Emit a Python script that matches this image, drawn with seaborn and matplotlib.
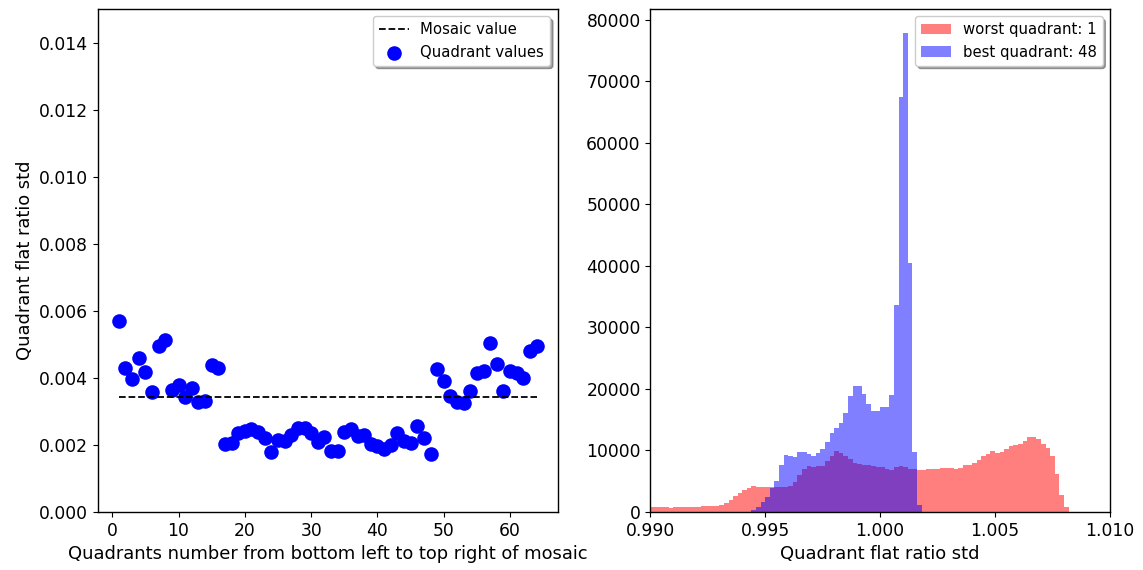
import numpy as np
import pandas as pd
import matplotlib
matplotlib.use("Agg")
import matplotlib.pyplot as plt
import seaborn as sns

# ---------------- data ----------------
quadrants = list(range(1, 65))
quadrant_std = [
    0.00570, 0.00430, 0.00396, 0.00459, 0.00417, 0.00358, 0.00495, 0.00514,
    0.00364, 0.00380, 0.00344, 0.00371, 0.00329, 0.00332, 0.00438, 0.00430,
    0.00202, 0.00207, 0.00236, 0.00242, 0.00248, 0.00238, 0.00222, 0.00179,
    0.00215, 0.00212, 0.00230, 0.00250, 0.00250, 0.00236, 0.00208, 0.00223,
    0.00182, 0.00182, 0.00238, 0.00246, 0.00227, 0.00229, 0.00203, 0.00198,
    0.00189, 0.00200, 0.00235, 0.00213, 0.00205, 0.00256, 0.00222, 0.00174,
    0.00425, 0.00390, 0.00347, 0.00329, 0.00324, 0.00362, 0.00415, 0.00420,
    0.00503, 0.00441, 0.00362, 0.00420, 0.00413, 0.00399, 0.00481, 0.00496,
]
mosaic_value = 0.00344

bin_start = 0.990
bin_width = 0.0002

worst_counts = [
    850, 820, 800, 770, 680, 760, 780, 780, 790, 820,
    880, 890, 890, 900, 950, 1120, 1450, 1900, 2650, 3100,
    3650, 3960, 4150, 4080, 4130, 4050, 4000, 4010, 4120, 4120,
    4150, 4930, 5960, 6990, 7430, 7370, 7480, 7530, 8350, 9100,
    9920, 9650, 9100, 8560, 7910, 7750, 7640, 7640, 7530, 7370,
    7240, 7050, 6780, 7350, 7480, 7350, 7030, 6970, 6830, 6880,
    6990, 7050, 6940, 7100, 7210, 7100, 6990, 7210, 7640, 7700,
    7910, 8400, 9050, 9490, 9860, 9650, 9760, 10190, 10730, 10950,
    11060, 11600, 12200, 12200, 11870, 11060, 10460, 9050, 6180, 2820,
    760,
]
best_counts = [0] * 22 + [
    300, 800, 1600, 2450, 3850, 5100, 7620, 9250, 9030, 9000,
    9700, 9810, 9490, 9050, 9650, 10300, 11380, 12900, 13710, 14420,
    16040, 18860, 20490, 20540, 19190, 17560, 16420, 16420, 17130, 17020,
    18970, 33640, 67430, 77830, 40400, 9700, 1100,
]
best_counts = best_counts + [0] * (len(worst_counts) - len(best_counts))

worst_label = "worst quadrant: 1"
best_label = "best quadrant: 48"

# --------------- figure ---------------
plt.rcParams["font.family"] = ["DejaVu Sans"]
plt.rcParams["font.size"] = 12.3
plt.rcParams["axes.labelsize"] = 12.9

fig, (ax1, ax2) = plt.subplots(1, 2, figsize=(11.43, 5.7), dpi=100)
fig.subplots_adjust(left=0.0857, right=0.9711, top=0.9842, bottom=0.1018, wspace=0.202)

# left panel
sns.lineplot(x=[quadrants[0], quadrants[-1]], y=[mosaic_value, mosaic_value],
             color="black", linestyle="--", linewidth=1.3, label="Mosaic value", ax=ax1)
sns.scatterplot(x=quadrants, y=quadrant_std, color="blue", s=110, linewidth=0,
                label="Quadrant values", ax=ax1)
ax1.set_ylim(0, 0.015)
ax1.set_yticks(np.arange(0, 0.0141, 0.002))
ax1.set_xlabel("Quadrants number from bottom left to top right of mosaic")
ax1.set_ylabel("Quadrant flat ratio std")
ax1.legend(loc="upper right", shadow=True, fontsize=10.7)

# right panel
n = len(worst_counts)
edges = [bin_start + bin_width * i for i in range(n + 1)]
centers = [(edges[i] + edges[i + 1]) / 2 for i in range(n)]
hist_df = pd.DataFrame({"x": centers, "worst": worst_counts, "best": best_counts})
sns.histplot(data=hist_df, x="x", weights="worst", bins=edges, color="red", alpha=0.5,
             linewidth=0, label=worst_label, ax=ax2)
sns.histplot(data=hist_df, x="x", weights="best", bins=edges, color="blue", alpha=0.5,
             linewidth=0, label=best_label, ax=ax2)
ax2.set_xlim(0.990, 1.010)
ax2.set_xticks([0.990, 0.995, 1.000, 1.005, 1.010])
ax2.set_xticklabels(["0.990", "0.995", "1.000", "1.005", "1.010"])
ax2.set_ylabel("")
ax2.set_xlabel("Quadrant flat ratio std")
ax2.legend(loc="upper right", shadow=True, fontsize=10.7)

for ax in (ax1, ax2):
    for sp in ax.spines.values():
        sp.set_linewidth(1.0)

fig.savefig("out.png", dpi=100)
